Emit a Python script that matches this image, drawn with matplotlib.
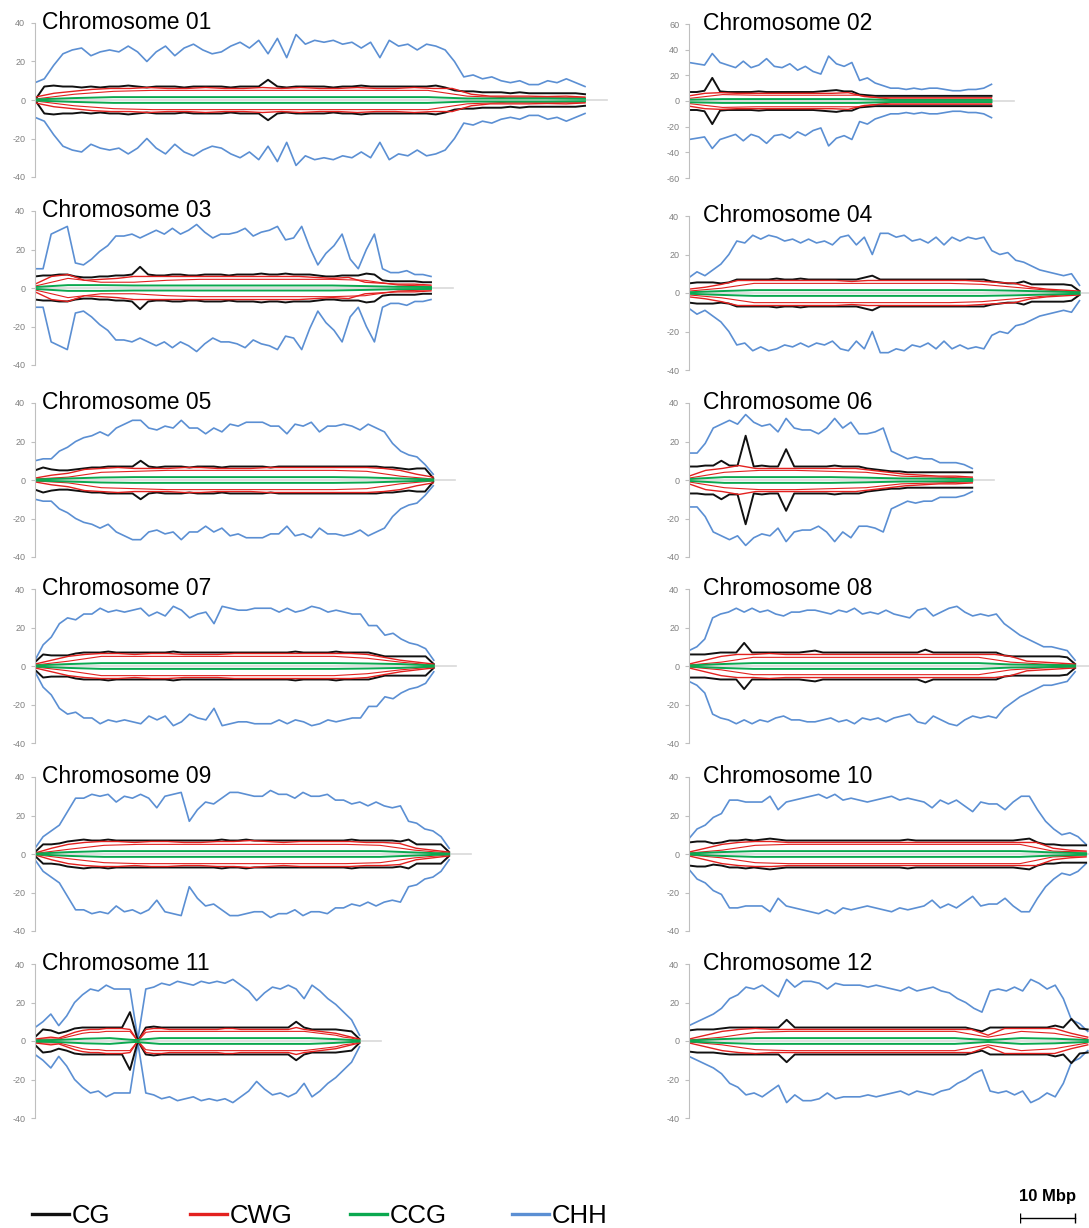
import numpy as np
import matplotlib.pyplot as plt
from matplotlib.lines import Line2D

plt.rcParams['font.family'] = ['Liberation Sans', 'DejaVu Sans']
plt.rcParams['axes.unicode_minus'] = False

# -----------------------------
# Data (upper strand; the plot mirrors them below 0)
# -----------------------------
chrom_ids = ["01", "02", "03", "04", "05", "06", "07", "08", "09", "10", "11", "12"]
chrom_len = [100, 55, 72, 71, 72.4, 51.5, 72.5, 70.2, 75.3, 72.2, 59, 72.5]   # Mbp
y_limit = [40, 60, 40, 40, 40, 40, 40, 40, 40, 40, 40, 40]

# CHH (blue)
chh_01 = [9, 11, 18, 24, 26, 27, 23, 25, 26, 25, 28, 25, 20, 25, 28, 23, 27, 29, 26, 24,
          25, 28, 30, 27, 31, 24, 32, 22, 34, 29, 31, 30, 31, 29, 30, 27, 30, 22, 31, 28,
          29, 26, 29, 28, 26, 20, 12, 13, 11, 12, 10, 9, 10, 8, 8, 10, 9, 11, 9, 7]
chh_02 = [30, 29, 28, 37, 30, 28, 26, 31, 26, 28, 33, 27, 26, 29, 24, 27, 23, 21, 35, 29,
          27, 30, 16, 18, 14, 12, 10, 10, 9, 10, 9, 10, 10, 9, 8, 8, 9, 9, 10, 13]
chh_03 = [10, 10, 28, 30, 32, 13, 12, 15, 19, 22, 27, 27, 28, 26, 28, 30, 28, 31, 28, 30,
          33, 29, 26, 28, 28, 29, 31, 27, 29, 30, 32, 25, 26, 32, 21, 12, 18, 22, 28, 15,
          10, 20, 28, 10, 8, 8, 9, 7, 7, 6]
chh_04 = [8, 11, 9, 12, 15, 20, 27, 26, 30, 28, 30, 29, 27, 28, 26, 28, 26, 27, 25, 29,
          30, 25, 29, 20, 31, 31, 29, 30, 27, 28, 26, 29, 25, 29, 27, 29, 28, 29, 22, 20,
          21, 17, 16, 14, 12, 11, 10, 9, 10, 4]
chh_05 = [10, 11, 11, 15, 17, 20, 22, 23, 25, 23, 27, 29, 31, 31, 27, 26, 28, 27, 31, 27,
          27, 24, 27, 25, 29, 28, 30, 30, 30, 28, 28, 24, 29, 28, 30, 25, 28, 28, 29, 28,
          26, 29, 27, 25, 19, 15, 13, 12, 8, 3]
chh_06 = [14, 14, 19, 27, 29, 31, 29, 34, 30, 28, 29, 25, 32, 27, 26, 26, 24, 27, 32, 27,
          30, 24, 24, 25, 27, 15, 13, 11, 12, 11, 11, 9, 9, 9, 8, 6]
chh_07 = [3, 11, 15, 22, 25, 24, 27, 27, 30, 28, 29, 28, 29, 30, 26, 28, 26, 31, 29, 25,
          27, 28, 22, 31, 30, 29, 29, 30, 30, 30, 28, 30, 28, 29, 31, 30, 28, 29, 28, 27,
          27, 21, 21, 16, 17, 14, 12, 11, 9, 3]
chh_08 = [8, 10, 14, 25, 27, 28, 30, 28, 30, 28, 29, 27, 26, 28, 28, 29, 29, 28, 27, 29,
          28, 30, 27, 28, 27, 29, 27, 26, 25, 29, 30, 26, 28, 30, 31, 28, 26, 27, 26, 27,
          22, 19, 16, 14, 12, 10, 10, 9, 8, 3]
chh_09 = [3, 9, 12, 15, 22, 29, 29, 31, 30, 31, 27, 30, 29, 31, 29, 24, 30, 31, 32, 17,
          23, 27, 26, 29, 32, 32, 31, 30, 30, 33, 31, 31, 29, 32, 30, 30, 31, 28, 28, 26,
          27, 25, 27, 25, 24, 25, 17, 16, 13, 12, 9, 3]
chh_10 = [8, 13, 15, 19, 21, 28, 28, 27, 27, 27, 30, 23, 27, 28, 29, 30, 31, 29, 31, 28,
          29, 28, 27, 28, 29, 30, 28, 29, 28, 27, 24, 28, 26, 28, 25, 22, 27, 26, 26, 23,
          27, 30, 30, 23, 17, 13, 10, 11, 9, 5]
chh_11 = [7, 10, 14, 8, 13, 20, 24, 27, 26, 29, 27, 27, 27, 1, 27, 28, 30, 29, 31, 30,
          29, 31, 30, 31, 30, 32, 29, 26, 21, 25, 28, 27, 29, 27, 22, 29, 26, 22, 19, 15,
          11, 3]
chh_12 = [8, 10, 12, 14, 17, 22, 24, 28, 27, 29, 26, 23, 32, 28, 31, 31, 30, 27, 30, 29,
          29, 29, 28, 29, 28, 27, 26, 28, 26, 27, 28, 26, 25, 22, 20, 17, 15, 26, 27, 26,
          28, 26, 32, 30, 27, 29, 22, 11, 9, 5]

# CG (black)
cg_01 = [0, 7, 7.5, 7, 7, 6.5, 7, 6.5, 7, 7, 7.5, 7, 6.5, 7, 7, 7, 6.5, 7, 7, 7,
         7, 6.5, 7, 7, 7, 10.5, 7, 6.5, 7, 7, 7, 7, 6.5, 7, 7, 7.5, 7, 7, 7, 7,
         7, 7, 7, 7.5, 6.5, 5, 4.5, 4.5, 4, 4, 4, 3.5, 4, 3.5, 3.5, 3.5, 3.5, 3.5, 3.5, 3]
cg_02 = [7, 7, 8, 18, 7.5, 7, 7, 7, 7, 7.5, 7, 7, 7, 7, 7, 7, 7, 7.5, 8, 8.5,
         7.5, 7.5, 5, 4.5, 4, 4, 4, 4, 4, 4, 4, 4, 4, 4, 4, 4, 4, 4, 4, 4]
cg_03 = [6, 6.5, 6.5, 7, 7, 6, 5.5, 5.5, 6, 6, 6.5, 6.5, 7, 11, 7, 6.5, 6.5, 7, 7, 6.5,
         6.5, 7, 7, 7, 6.5, 7, 7, 7, 7.5, 7, 7, 7.5, 7, 7, 7, 6.5, 6, 6, 6.5, 6.5,
         6.5, 7.5, 7, 4, 3.5, 3.5, 3.5, 3.5, 3, 3]
cg_04 = [5, 5.5, 5.5, 5.5, 5, 5.5, 7, 7, 7, 7, 7, 7.5, 7, 7, 7.5, 7, 7, 7, 7, 7,
         7, 7, 8, 9, 7, 7, 7, 7, 7, 7, 7, 7, 7, 7, 7, 7, 7, 7, 6, 5.5,
         5, 5, 6, 4.5, 4.5, 4.5, 4.5, 4.5, 4, 1]
cg_05 = [5, 6.5, 5.5, 5, 5, 5.5, 6, 6.5, 6.5, 7, 7, 7, 7, 10, 7, 6.5, 7, 7, 7, 6.5,
         7, 7, 7, 6.5, 7, 7, 7, 7, 7, 6.5, 7, 7, 7, 7, 7, 7, 7, 7, 7, 7,
         7, 7, 7, 6.5, 6.5, 6, 5.5, 6, 6, 1]
cg_06 = [7, 7, 7.5, 7.5, 10, 7.5, 7.5, 23, 7, 7.5, 7, 7, 16, 7, 7, 7, 7, 7, 7.5, 7,
         7, 7, 6, 5.5, 5, 4.5, 4.5, 4, 4, 4, 4, 4, 4, 4, 4, 4]
cg_07 = [2, 6, 5.5, 5.5, 5.5, 6.5, 7, 7, 7, 7.5, 7, 7, 7, 7, 7, 7, 7, 7.5, 7, 7,
         7, 7, 7, 7, 7, 7, 7, 7, 7, 7, 7, 7, 7.5, 7, 7, 7, 7, 7.5, 7, 7,
         7, 7, 6, 5, 5, 5, 5, 5, 5, 1]
cg_08 = [6, 6, 6, 6.5, 7, 7, 7, 12, 7, 7, 7, 7, 7, 7, 7, 7.5, 8, 7, 7, 7,
         7, 7, 7, 7, 7, 7, 7, 7, 7, 7, 8.5, 7, 7, 7, 7, 7, 7, 7, 7, 7,
         5.5, 5, 5, 5, 5, 5, 5, 5, 4.5, 1]
cg_09 = [1, 5, 5, 5.5, 6.5, 7, 7.5, 7, 7, 7.5, 7, 7, 7, 7, 7, 7, 7, 7, 7, 7,
         7, 7, 7, 7.5, 7, 7, 7.5, 7, 7, 7, 7, 7, 7, 7, 7, 7, 7, 7, 7, 7.5,
         7, 7, 7, 7, 7, 6.5, 7.5, 5, 5, 5, 5, 1]
cg_10 = [6, 6.5, 6.5, 5.5, 6, 7, 7, 7.5, 7, 7.5, 8, 7.5, 7, 7, 7, 7, 7, 7, 7, 7,
         7, 7, 7, 7, 7, 7, 7, 7.5, 7, 7, 7, 7, 7, 7, 7, 7, 7, 7, 7, 7,
         7, 7.5, 8, 6, 5, 5, 4.5, 4.5, 4.5, 4.5]
cg_11 = [2, 6, 5.5, 4, 5, 6.5, 7, 7, 7, 7, 7, 7, 15, 0, 7, 7.5, 7, 7, 7, 7,
         7, 7, 7, 7, 7, 7, 7, 7, 7, 7, 7, 7, 7, 10, 7, 6, 6, 6, 6, 5.5, 5, 1]
cg_12 = [5.5, 6, 6, 6, 6.5, 7, 7, 7, 7, 7, 7, 7, 11, 7, 7, 7, 7, 7, 7, 7,
         7, 7, 7, 7, 7, 7, 7, 7, 7, 7, 7, 7, 7, 7, 7, 6, 5, 7, 7, 7,
         7, 7, 7, 7, 7, 8, 7, 11.5, 6.5, 6]

# CWG (red, outer line)
cwg_01 = [1.5, 3.5, 4.5, 5.5, 6, 6, 6.5, 6, 6, 6.5, 6, 6, 6.5, 6, 6.5, 6, 6, 6.5, 6, 6,
          6.5, 6, 6, 3, 2, 2, 2, 1.8, 2, 1.5]
cwg_02 = [4, 6, 6.5, 6, 6, 6, 6, 6, 6, 6, 6.5, 3.5, 2.5, 2.5, 2.5, 2.5, 2.5, 2.5, 2.5, 2.5]
cwg_03 = [2, 6, 7, 4, 4.5, 5, 6, 6, 6, 6, 6, 6, 6, 6, 6, 6, 6, 5.5, 5, 5.5, 3, 2.5, 2, 2, 1.5]
cwg_04 = [2, 3, 4.5, 6.5, 6.5, 6.5, 6.5, 6.5, 6.5, 6.5, 6, 6.5, 6.5, 6.5, 6.5, 6.5, 6.5,
          6.5, 6, 5.5, 5, 3, 2, 1.5, 1]
cwg_05 = [1, 2.5, 3.5, 5.5, 6, 6.5, 6, 6, 6, 6.5, 6.5, 6, 6, 6, 6.5, 6.5, 6.5, 6.5, 6.5,
          6.5, 6.5, 6, 5, 3, 1.5]
cwg_06 = [2, 5, 6, 7.5, 6, 6, 6, 6, 6, 6, 6, 5, 4, 3, 2.5, 2, 2, 1.5]
cwg_07 = [1, 3, 5, 6, 6.5, 6.5, 6, 6.5, 6.5, 6, 6, 6, 6.5, 6.5, 6.5, 6.5, 6.5, 6.5, 6.5,
          6.5, 6, 4.5, 3, 2, 1]
cwg_08 = [1, 3, 5, 6, 6, 6.5, 6, 6, 6, 6, 6, 6, 6, 6, 6, 6, 6, 6, 6, 6, 5, 2.5, 2, 1.5, 1]
cwg_09 = [0.5, 3, 5, 6, 6.5, 6.5, 6, 6.5, 6.5, 6, 6, 6.5, 6.5, 7, 6.5, 6, 6.5, 6.5, 6.5,
          6.5, 6, 6, 5.5, 3, 2, 1]
cwg_10 = [1, 3, 5, 6, 6.5, 6.5, 6, 6, 6, 6, 6, 6, 6, 6, 6, 6, 6, 6, 6, 6, 6, 6, 3, 2, 1.5]
cwg_11 = [1, 1.5, 2, 1.5, 3, 4.5, 5.5, 6, 6, 6.5, 6.5, 6.5, 6, 0, 6, 6.5, 6.5, 6, 6, 6,
          6, 6, 6, 6, 6.5, 6.5, 6, 6, 6, 6, 6, 6, 6, 7, 6, 5.5, 5, 4.5, 4, 3, 2, 1]
cwg_12 = [1, 3, 5, 6, 6.5, 6, 6, 6, 6, 6, 6, 6, 6, 6, 6, 6, 6, 6, 3, 6.5, 6.5, 6.5, 6.5, 4, 2]

# CWG (red, inner line)
cwg2_01 = [0.5, 3, 4.5, 5, 5, 5, 5, 5, 5, 5, 5, 2, 1.2, 1.2, 1.2]
cwg2_02 = [2, 5, 4.5, 4.5, 4.5, 4.5, 1.5, 1.5, 1.5, 1.5]
cwg2_03 = [1, 5, 3, 3, 4, 4.5, 4.5, 4.5, 4.5, 4.5, 4, 1.5, 1]
cwg2_04 = [1, 2.5, 5, 5, 5, 5, 5, 5, 5, 4.5, 3, 1.5, 0.5]
cwg2_05 = [0.5, 1.5, 4, 4.5, 5, 5, 5, 5, 5, 5, 4.5, 2, 0.5]
cwg2_06 = [1, 4, 5, 5, 4.5, 4, 2, 1.5, 1]
cwg2_07 = [0.5, 2.5, 5, 5, 5, 5, 5, 5, 5, 5, 4, 2, 0.5]
cwg2_08 = [0.5, 2, 4.5, 4.5, 4.5, 4.5, 4.5, 4.5, 4.5, 4.5, 2, 1, 0.5]
cwg2_09 = [0.3, 2.5, 4.5, 5, 5, 5, 5, 5, 5, 5, 4.5, 2, 0.5]
cwg2_10 = [0.5, 2, 4.5, 5, 5, 5, 5, 5, 5, 5, 5, 1.5, 1]
cwg2_11 = [0.5, 1, 1, 1, 2, 3, 4, 4.5, 4.5, 5, 5, 5, 5, 0, 4.5, 5, 5, 5, 5, 5,
           5, 5, 5, 5, 5, 5, 5, 5, 5, 5, 5, 5, 5, 5, 5, 4.5, 4, 3.5, 3, 2, 1.5, 0.5]
cwg2_12 = [0.5, 2, 4.5, 5, 5, 5, 5, 5, 5, 2, 5, 4, 1]

# CCG (green)
ccg_01 = [0.3, 1, 1.5, 1.5, 1.5, 1.5, 1.5, 1.5, 1.5, 1.5, 1.5, 0.8, 0.8, 0.8, 0.6]
ccg_02 = [1, 1.5, 1.5, 1.5, 1.5, 1.5, 0.8, 0.8, 0.8, 0.8]
ccg_03 = [0.5, 1.5, 1.5, 1.3, 1.3, 1.3, 1.3, 1.3, 1.3, 1.3, 1, 0.6, 0.5]
ccg_04 = [0.4, 1, 1.5, 1.5, 1.5, 1.5, 1.5, 1.5, 1.5, 1.5, 1.2, 0.8, 0.4]
ccg_05 = [0.3, 0.8, 1.3, 1.5, 1.5, 1.5, 1.5, 1.5, 1.5, 1.5, 1.3, 0.8, 0.3]
ccg_06 = [0.5, 1.5, 1.5, 1.5, 1.5, 1.2, 0.8, 0.7, 0.5]
ccg_07 = [0.3, 1, 1.5, 1.5, 1.5, 1.5, 1.5, 1.5, 1.5, 1.5, 1.3, 1, 0.3]
ccg_08 = [0.3, 1, 1.5, 1.5, 1.5, 1.5, 1.5, 1.5, 1.5, 1.5, 0.8, 0.6, 0.3]
ccg_09 = [0.2, 1, 1.5, 1.5, 1.5, 1.5, 1.5, 1.5, 1.5, 1.5, 1.5, 0.8, 0.2]
ccg_10 = [0.3, 1, 1.5, 1.5, 1.5, 1.5, 1.5, 1.5, 1.5, 1.5, 1.5, 0.8, 0.4]
ccg_11 = [0.3, 0.6, 1.2, 1.5, 0.5, 1.5, 1.5, 1.5, 1.5, 1.5, 1.5, 1.5, 1, 0.3]
ccg_12 = [0.3, 1, 1.5, 1.5, 1.5, 1.5, 1.5, 1.5, 1.5, 0.5, 1.5, 1.2, 0.5]

chh = [chh_01, chh_02, chh_03, chh_04, chh_05, chh_06, chh_07, chh_08, chh_09, chh_10, chh_11, chh_12]
cg = [cg_01, cg_02, cg_03, cg_04, cg_05, cg_06, cg_07, cg_08, cg_09, cg_10, cg_11, cg_12]
cwg = [cwg_01, cwg_02, cwg_03, cwg_04, cwg_05, cwg_06, cwg_07, cwg_08, cwg_09, cwg_10, cwg_11, cwg_12]
cwg2 = [cwg2_01, cwg2_02, cwg2_03, cwg2_04, cwg2_05, cwg2_06, cwg2_07, cwg2_08, cwg2_09, cwg2_10, cwg2_11, cwg2_12]
ccg = [ccg_01, ccg_02, ccg_03, ccg_04, ccg_05, ccg_06, ccg_07, ccg_08, ccg_09, ccg_10, ccg_11, ccg_12]

legend_labels = ["CG", "CWG", "CCG", "CHH"]

# -----------------------------
# Layout (pixels)
# -----------------------------
W, H = 1089, 1228
px_per_mbp = 5.5
col_x = [35, 689]
col_w = [575, 400]
title_x = [42, 703]
zero_y = [100, 101, 288, 293, 480, 480, 666, 666, 854, 854, 1041, 1041]
half_h = 77
legend_x = [32, 190, 350, 512]

c_chh = '#5b8fd3'
c_cg = '#111111'
c_cwg = '#e3211f'
c_ccg = '#0aa84f'
c_axis = '#bfbfbf'

fig = plt.figure(figsize=(W / 100, H / 100), dpi=100)

for i, cid in enumerate(chrom_ids):
    col = i % 2
    zy = zero_y[i]
    L = chrom_len[i]
    ax = fig.add_axes([col_x[col] / W, 1 - (zy + half_h) / H, col_w[col] / W, 2 * half_h / H])
    ax.set_xlim(0, col_w[col] / px_per_mbp)
    ax.set_ylim(-y_limit[i], y_limit[i])

    # zero axis
    ax.plot([0, L + 4], [0, 0], color='#d9d9d9', lw=1.2, zorder=0)

    series = [(chh[i], c_chh, 1.2), (cg[i], c_cg, 1.4),
              (cwg[i], c_cwg, 1.0), (cwg2[i], c_cwg, 0.8), (ccg[i], c_ccg, 1.4)]
    for vals, color, lw in series:
        v = np.array(vals, dtype=float)
        x = np.linspace(0, L, len(v))
        ax.plot(x, v, color=color, lw=lw, solid_joinstyle='round')
        ax.plot(x, -v, color=color, lw=lw, solid_joinstyle='round')

    for s in ['top', 'right', 'bottom']:
        ax.spines[s].set_visible(False)
    ax.spines['left'].set_color(c_axis)
    ax.spines['left'].set_linewidth(0.8)
    ax.set_xticks([])
    ax.set_yticks(np.arange(-y_limit[i], y_limit[i] + 1, 20))
    ax.tick_params(axis='y', direction='out', length=3, width=0.8, color=c_axis,
                   labelcolor='#808080', labelsize=6.5, pad=4)
    ax.patch.set_alpha(0)

    fig.text(title_x[col] / W, 1 - (zy - half_h + 6) / H, "Chromosome " + cid,
             fontsize=16.5, ha='left', va='baseline')

# -----------------------------
# Legend (one entry each, placed like the original)
# -----------------------------
for lab, color, lx in zip(legend_labels, [c_cg, c_cwg, c_ccg, c_chh], legend_x):
    h = Line2D([], [], color=color, lw=2.4)
    fig.legend([h], [lab], loc='center left', bbox_to_anchor=(lx / W, 1 - 1216 / H),
               frameon=False, fontsize=18.5, handlelength=1.45, handletextpad=0.1,
               borderpad=0, borderaxespad=0)

# -----------------------------
# Scale bar
# -----------------------------
scale_mbp = 10
ax_sb = fig.add_axes([1020 / W, 1 - 1226 / H, 60 / W, 16 / H])
ax_sb.set_xlim(0, 60 / px_per_mbp)
ax_sb.set_ylim(-1, 1)
ax_sb.axis('off')
ax_sb.plot([0, scale_mbp], [0, 0], color='black', lw=1.0, marker='|', markersize=7,
           markeredgewidth=1.0)
fig.text(1048 / W, 1 - 1197 / H, "10 Mbp", fontsize=12, fontweight='bold',
         ha='center', va='center')

fig.savefig("out.png", dpi=100)
